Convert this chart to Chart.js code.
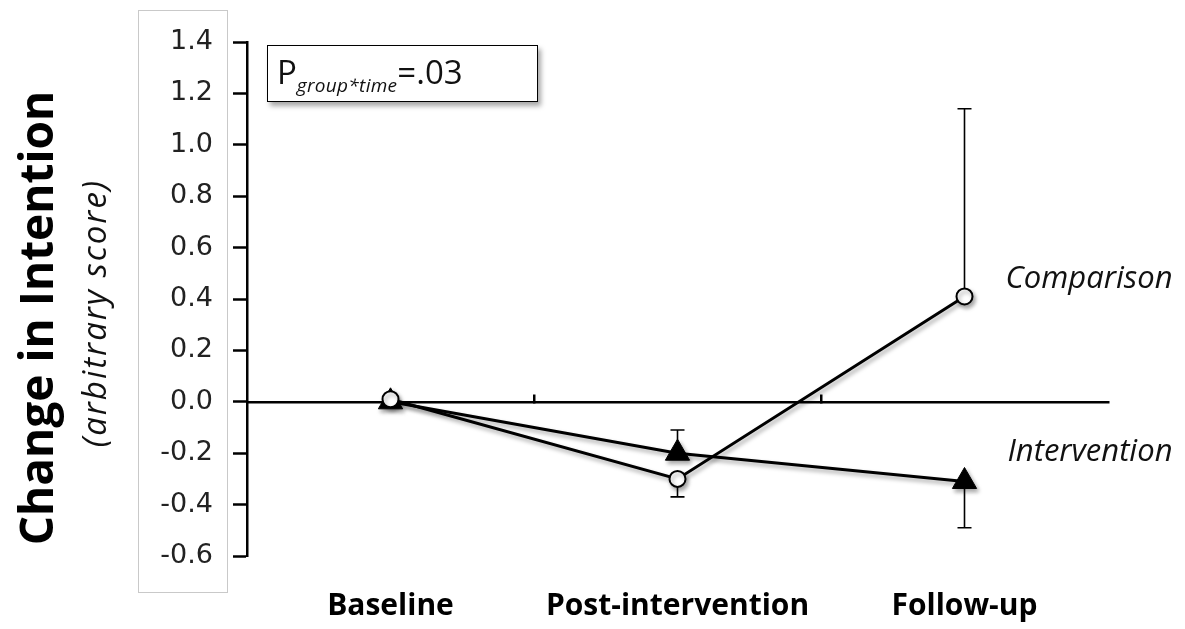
<!DOCTYPE html>
<html><head><meta charset="utf-8">
<script src="https://cdn.jsdelivr.net/npm/chart.js@4"></script>
<style>
html,body{margin:0;padding:0;background:#fff;}
#wrap{position:relative;width:1185px;height:629px;overflow:hidden;}
#tickbox{position:absolute;left:138px;top:10px;width:90px;height:583px;border:1px solid #c9c9c9;box-sizing:border-box;}
#c{position:absolute;left:0;top:0;}
#pbox{position:absolute;left:267px;top:45px;width:271px;height:57px;border:1.5px solid #000;box-shadow:3px 4px 5px rgba(0,0,0,0.35);background:#fff;box-sizing:border-box;font-family:'Open Sans',sans-serif;font-size:33px;color:#111;padding-left:9px;line-height:52px;white-space:nowrap;}
#pbox i{font-size:19px;position:relative;top:8px;letter-spacing:0.3px;}
</style></head>
<body>
<div id="wrap">
<div id="tickbox"></div>
<canvas id="c" width="1185" height="629"></canvas>
<div id="pbox">P<i>group*time</i>=.03</div>
</div>
<script>
const categories = ['Baseline', 'Post-intervention', 'Follow-up'];
const seriesNames = ['Comparison', 'Intervention'];
const comparisonMean = [0.01, -0.30, 0.41];
const comparisonErrEnd = [null, -0.37, 1.14];
const interventionMean = [0.0, -0.20, -0.31];
const interventionErrEnd = [null, -0.11, -0.49];
const yTicks = [-0.6, -0.4, -0.2, 0.0, 0.2, 0.4, 0.6, 0.8, 1.0, 1.2, 1.4];
const yTitle = 'Change in Intention';
const ySubtitle = '(arbitrary score)';

const errEnds = [comparisonErrEnd, interventionErrEnd];

const shadowPlugin = {
  id: 'shadow',
  beforeDatasetDraw(chart) {
    const ctx = chart.ctx;
    ctx.save();
    ctx.shadowColor = 'rgba(0,0,0,0.35)';
    ctx.shadowBlur = 4;
    ctx.shadowOffsetX = 2;
    ctx.shadowOffsetY = 3;
  },
  afterDatasetDraw(chart) { chart.ctx.restore(); }
};

const errorBars = {
  id: 'errorBars',
  beforeDatasetsDraw(chart) {
    const ctx = chart.ctx, ys = chart.scales.y;
    errEnds.forEach((arr, i) => {
      const meta = chart.getDatasetMeta(i);
      arr.forEach((e, j) => {
        if (e === null) return;
        const p = meta.data[j];
        const yEnd = ys.getPixelForValue(e);
        ctx.save();
        ctx.strokeStyle = '#000';
        ctx.lineWidth = 1.6;
        ctx.beginPath();
        ctx.moveTo(p.x, p.y); ctx.lineTo(p.x, yEnd);
        ctx.moveTo(p.x - 7, yEnd); ctx.lineTo(p.x + 7, yEnd);
        ctx.stroke();
        ctx.restore();
      });
    });
  }
};

const textPlugin = {
  id: 'texts',
  afterDraw(chart) {
    const ctx = chart.ctx, ys = chart.scales.y, xs = chart.scales.x;
    ctx.save();
    ctx.fillStyle = '#111';
    ctx.font = 'italic 31px "Open Sans"';
    ctx.textAlign = 'right';
    ctx.textBaseline = 'middle';
    const xr = xs.getPixelForValue(2) + 208;
    ctx.fillText(seriesNames[0], xr, ys.getPixelForValue(comparisonMean[2]) - 17);
    ctx.fillText(seriesNames[1], xr, ys.getPixelForValue(interventionMean[2]) - 29);
    ctx.restore();

    // y-axis titles
    ctx.save();
    ctx.textAlign = 'center';
    ctx.textBaseline = 'middle';
    ctx.fillStyle = '#000';
    ctx.translate(40, 318);
    ctx.rotate(-Math.PI / 2);
    ctx.font = 'bold 46px "Open Sans"';
    ctx.fillText(yTitle, 0, 0);
    ctx.restore();

    ctx.save();
    ctx.textAlign = 'center';
    ctx.textBaseline = 'middle';
    ctx.fillStyle = '#111';
    ctx.translate(97, 313);
    ctx.rotate(-Math.PI / 2);
    ctx.font = 'italic 33px "Open Sans"';
    if ('letterSpacing' in ctx) ctx.letterSpacing = '2px';
    ctx.fillText(ySubtitle, 0, 0);
    ctx.restore();
  }
};

new Chart(document.getElementById('c'), {
  type: 'line',
  data: {
    labels: categories,
    datasets: [
      {
        label: seriesNames[0], data: comparisonMean,
        borderColor: '#000', borderWidth: 3,
        pointStyle: 'circle', pointRadius: 8, pointBorderWidth: 2,
        pointBackgroundColor: '#fff', pointBorderColor: '#000', tension: 0
      },
      {
        label: seriesNames[1], data: interventionMean,
        borderColor: '#000', borderWidth: 3,
        pointStyle: 'triangle', pointRadius: 14, pointBorderWidth: 1,
        pointBackgroundColor: '#000', pointBorderColor: '#000', tension: 0
      }
    ]
  },
  options: {
    responsive: false,
    animation: false,
    layout: { padding: { left: 0, right: 77, top: 42, bottom: 0 } },
    plugins: { legend: { display: false }, tooltip: { enabled: false } },
    scales: {
      x: {
        type: 'category', offset: true,
        grid: { display: false, drawTicks: false },
        border: { display: false },
        ticks: { color: '#000', padding: 32, font: { family: 'Open Sans', weight: 'bold', size: 30 } },
        afterFit: s => { s.height = 73; }
      },
      x2: {
        type: 'category', labels: categories, offset: true,
        position: { y: 0 },
        grid: {
          offset: true, drawOnChartArea: false, tickLength: -9, lineWidth: 2.5,
          tickColor: c => (c.index === 1 || c.index === 2) ? '#000' : 'rgba(0,0,0,0)'
        },
        border: { display: true, color: '#000', width: 2.5 },
        ticks: { display: false }
      },
      y: {
        min: -0.6, max: 1.4,
        afterBuildTicks: s => { s.ticks = yTicks.map(v => ({ value: v })); },
        ticks: { color: '#222', padding: 20, font: { family: 'DejaVu Sans', size: 27 }, callback: v => Number(v).toFixed(1) },
        grid: { drawOnChartArea: false, tickLength: 14, tickColor: '#000', tickWidth: 2.5 },
        border: { color: '#000', width: 2.5 },
        title: { display: false },
        afterFit: s => { s.width = 247; }
      }
    }
  },
  plugins: [shadowPlugin, errorBars, textPlugin]
});
</script>
</body></html>
